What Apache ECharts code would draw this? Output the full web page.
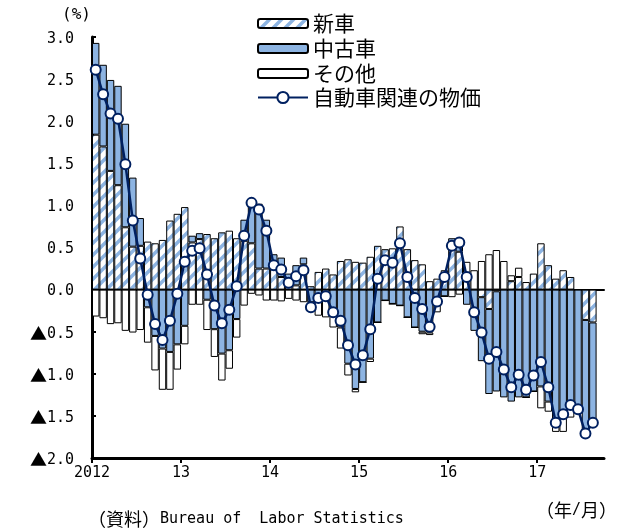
<!DOCTYPE html>
<html><head><meta charset="utf-8">
<script src="https://cdn.jsdelivr.net/npm/echarts@6/dist/echarts.min.js"></script>
<style>html,body{margin:0;padding:0;background:#fff}#c{width:628px;height:529px}</style>
</head><body><div id="c"></div>
<script>
const CJK = '"Noto Sans CJK JP", "Noto Sans", sans-serif';
const MONO = '"DejaVu Sans Mono", "Liberation Mono", monospace';
// Categories: Jan 2012 .. Sep 2017 (last slot empty)
const years = [2012, 2013, 2014, 2015, 2016, 2017];
const categories = [];
years.forEach(y => { for (let m = 1; m <= 12; m++) { if (y === 2017 && m > 9) break; categories.push(y + '/' + m); } });

const xTickLabels = ['2012', '13', '14', '15', '16', '17'];
const xTickPos = [0, 12, 24, 36, 48, 60];

// 新車 (new cars) contribution, %pt
const newCar = [
  1.84, 1.70, 1.41, 1.24, 0.74, 0.51, 0.52, 0.57, 0.55, 0.59, 0.82, 0.90,
  0.98, 0.56, 0.60, 0.66, 0.61, 0.68, 0.70, 0.61, 0.58, 0.55, 0.25, 0.25,
  0.25, 0.15, 0.05, 0.05, 0.30, 0.04, 0.21, 0.25, 0.18, 0.34, 0.36, 0.33,
  0.32, 0.39, 0.52, 0.48, 0.49, 0.75, 0.48, 0.35, 0.30, 0.10, 0.13, 0.23,
  0.50, 0.45, 0.20, 0.00, -0.09, -0.23, -0.02, 0.00, 0.10, 0.15, 0.09, 0.19,
  0.55, 0.29, 0.13, 0.23, 0.15, 0.00, -0.36, -0.39
];
// 中古車 (used cars)
const usedCar = [
  1.09, 0.97, 1.08, 1.18, 1.23, 0.82, 0.33, -0.21, -0.55, -0.70, -0.74, -0.65,
  -0.43, 0.08, 0.07, -0.12, -0.47, -0.76, -0.72, -0.35, 0.25, 0.53, 0.77, 0.58,
  0.17, 0.23, 0.14, 0.24, 0.08, -0.15, -0.12, -0.12, -0.27, -0.45, -0.88, -1.18,
  -1.10, -0.82, -0.39, -0.13, -0.17, -0.19, -0.33, -0.45, -0.50, -0.51, -0.12, -0.08,
  0.11, 0.16, -0.18, -0.49, -0.76, -1.01, -1.19, -1.28, -1.33, -1.28, -1.28, -1.21,
  -1.15, -1.33, -1.63, -1.50, -1.42, -1.42, -1.35, -1.19
];
// その他 (other)
const other = [
  -0.32, -0.34, -0.41, -0.40, -0.49, -0.51, -0.48, -0.42, -0.41, -0.49, -0.45, -0.30,
  -0.22, -0.18, -0.18, -0.36, -0.33, -0.32, -0.22, -0.22, -0.19, -0.05, -0.07, -0.13,
  -0.13, -0.14, -0.11, -0.13, -0.15, -0.10, -0.19, -0.21, -0.18, -0.25, -0.14, -0.04,
  0.00, -0.04, 0.00, 0.00, 0.00, 0.00, 0.00, 0.00, -0.03, -0.03, -0.15, 0.00,
  -0.09, -0.06, 0.13, 0.23, 0.34, 0.42, 0.47, 0.34, 0.07, 0.11, 0.00, 0.00,
  -0.26, -0.12, -0.06, -0.19, -0.10, 0.00, 0.00, 0.00
];
// 自動車関連の物価 (auto-related prices, y/y %)
const autoPrice = [
  2.61, 2.32, 2.09, 2.03, 1.49, 0.82, 0.37, -0.06, -0.41, -0.60, -0.37, -0.05,
  0.33, 0.46, 0.49, 0.18, -0.19, -0.40, -0.24, 0.04, 0.64, 1.03, 0.95, 0.70,
  0.29, 0.24, 0.08, 0.16, 0.23, -0.21, -0.10, -0.08, -0.27, -0.37, -0.66, -0.89,
  -0.78, -0.47, 0.13, 0.35, 0.32, 0.55, 0.15, -0.10, -0.23, -0.44, -0.14, 0.15,
  0.52, 0.56, 0.15, -0.27, -0.51, -0.82, -0.74, -0.95, -1.16, -1.01, -1.19, -1.02,
  -0.86, -1.16, -1.58, -1.48, -1.37, -1.42, -1.71, -1.58
];

const BLUE = '#8DB4E2';
const NAVY = '#002060';

function hatchCanvas() {
  const s = 12;
  const c = document.createElement('canvas');
  c.width = s; c.height = s;
  const g = c.getContext('2d');
  g.fillStyle = '#fff'; g.fillRect(0, 0, s, s);
  g.strokeStyle = BLUE; g.lineWidth = 3.5;
  g.beginPath();
  g.moveTo(-s / 2, s / 2); g.lineTo(s / 2, -s / 2);
  g.moveTo(0, s); g.lineTo(s, 0);
  g.moveTo(s / 2, s * 1.5); g.lineTo(s * 1.5, s / 2);
  g.stroke();
  return c;
}

const chart = echarts.init(document.getElementById('c'), null, { renderer: 'canvas' });
const barBase = {
  type: 'bar', stack: 'total', xAxisIndex: 0, yAxisIndex: 0,
  barCategoryGap: '0%', barGap: '0%'
};
const legendText = { fontSize: 21, color: '#000', fontFamily: CJK };
const option = {
  animation: false,
  textStyle: { fontFamily: CJK },
  grid: { left: 92, right: 24, top: 37, bottom: 71 },
  legend: [
    {
      orient: 'vertical', left: 252, top: 8, padding: 5,
      itemWidth: 50, itemHeight: 9, itemGap: 4,
      textStyle: legendText,
      data: ['新車', '中古車', 'その他']
    },
    {
      orient: 'vertical', left: 252, top: 82, padding: 5,
      itemWidth: 50, itemHeight: 14, itemGap: 4,
      textStyle: legendText,
      data: ['自動車関連の物価']
    }
  ],
  xAxis: [
    {
      type: 'category', data: categories, boundaryGap: true, position: 'bottom',
      axisLine: { show: true, onZero: true, lineStyle: { color: '#000', width: 2 } },
      axisTick: { show: false }, axisLabel: { show: false }, splitLine: { show: false }
    },
    {
      type: 'value', min: 0, max: categories.length, position: 'bottom',
      axisLine: { show: true, onZero: false, lineStyle: { color: '#000', width: 3 } },
      axisTick: { show: true, length: 5, customValues: xTickPos, lineStyle: { color: '#000', width: 2 } },
      axisLabel: {
        show: true, customValues: xTickPos, margin: 8, fontSize: 15, color: '#000', fontFamily: MONO,
        formatter: v => { const i = xTickPos.indexOf(v); return i >= 0 ? xTickLabels[i] : ''; }
      },
      splitLine: { show: false }
    }
  ],
  yAxis: {
    type: 'value', min: -2, max: 3, interval: 0.5,
    axisLine: { show: true, onZero: false, lineStyle: { color: '#000', width: 3 } },
    axisTick: { show: true, inside: true, length: 4, lineStyle: { color: '#000', width: 2 } },
    splitLine: { show: false },
    axisLabel: {
      margin: 18, color: '#000', padding: [4, 0, 0, 0],
      formatter: v => (v < 0 ? '{t|▲}{n|' + Math.abs(v).toFixed(1) + '}' : '{n|' + v.toFixed(1) + '}'),
      rich: {
        t: { fontFamily: CJK, fontSize: 17, color: '#000' },
        n: { fontFamily: MONO, fontSize: 15, color: '#000' }
      }
    }
  },
  series: [
    Object.assign({}, barBase, { name: '新車', data: newCar,
      itemStyle: { color: { image: hatchCanvas(), repeat: 'repeat' }, borderColor: '#000', borderWidth: 1 } }),
    Object.assign({}, barBase, { name: '中古車', data: usedCar,
      itemStyle: { color: BLUE, borderColor: '#000', borderWidth: 1 } }),
    Object.assign({}, barBase, { name: 'その他', data: other,
      itemStyle: { color: '#fff', borderColor: '#000', borderWidth: 1 } }),
    {
      name: '自動車関連の物価', type: 'line', xAxisIndex: 0, yAxisIndex: 0, data: autoPrice,
      symbol: 'circle', symbolSize: 10, showSymbol: true, showAllSymbol: true, z: 10,
      itemStyle: { color: '#fff', borderColor: NAVY, borderWidth: 2 },
      lineStyle: { color: NAVY, width: 2.5 }
    }
  ],
  graphic: [
    { type: 'text', left: 62, top: 7, style: { text: '(%)', font: '16px ' + MONO, fill: '#000' } },
    {
      type: 'text', left: 536, top: 501,
      style: { text: '{c|（年}{m|/}{c|月）}', fill: '#000',
        rich: { c: { fontFamily: CJK, fontSize: 18, fill: '#000' }, m: { fontFamily: MONO, fontSize: 15, fill: '#000' } } }
    },
    {
      type: 'text', left: 88, top: 510,
      style: { text: '{c|（資料）}{m|Bureau of  Labor Statistics}', fill: '#000',
        rich: { c: { fontFamily: CJK, fontSize: 18, fill: '#000' }, m: { fontFamily: MONO, fontSize: 15, fill: '#000' } } }
    }
  ]
};
chart.setOption(option);
</script>
</body></html>
